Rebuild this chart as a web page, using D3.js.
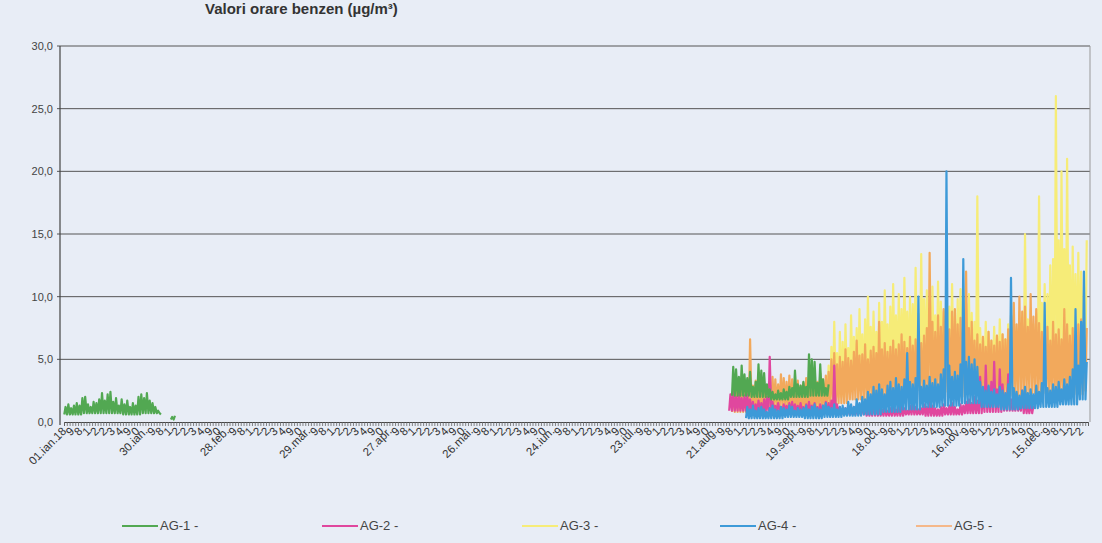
<!DOCTYPE html>
<html><head><meta charset="utf-8">
<script src="https://cdn.jsdelivr.net/npm/d3@7"></script>
<style>
html,body{margin:0;padding:0;background:#e8edf6;}
svg{display:block;font-family:"Liberation Sans",Arial,sans-serif;}
</style></head><body>
<svg id="c" width="1102" height="543"></svg>
<script>
// ---------- DATA ----------
const chartTitle = "Valori orare benzen (µg/m³)";
const seriesNames = ["AG-1 -", "AG-2 -", "AG-3 -", "AG-4 -", "AG-5 -"];
const yTicks = [0, 5, 10, 15, 20, 25, 30];
const yTickLabels = ["0,0", "5,0", "10,0", "15,0", "20,0", "25,0", "30,0"];
const dateLabelDays = [0, 29, 58, 87, 116, 145, 174, 203, 232, 261, 290, 319, 348];
const dateLabels = ["01.ian.18", "30.ian.", "28.feb.", "29.mar.", "27.apr.", "26.mai.", "24.iun.",
                    "23.iul.", "21.aug.", "19.sept.", "18.oct.", "16.nov.", "15.dec."];
const hourLabels = ["9", "8", "1", "2", "2", "3", "4", "9", "0"];

// daily maxima (hi) and weekly baseline minima (lo), by day of year
const ag1JanStart = 0;
const ag1JanHi = [1.2,1.4,1.1,1.3, 1.5,1.3,1.9,2.0,1.4, 1.2,1.6,1.5,1.8, 2.3,1.7,2.2,2.4,
  1.6,1.9,1.3,1.8, 1.4,1.7,1.2,1.5, 1.3,2.0,2.2,1.9,2.3, 1.7,1.5,1.2,0.9,0.6, null,null,null, 0.4,0.5];
const ag1JanLo = [0.6,0.7,0.7,0.6,0.7,0.2];

const ag1AugStart = 238;
const ag1AugHi = [4.4,4.2,3.6,4.5, 3.8,3.5,4.0,2.8, 3.2,4.6,4.1,3.9, 3.0,2.6,2.4,2.2,
  2.5,2.3,2.6,2.4, 2.8,2.7,4.1,3.0, 2.9,3.2,2.8,5.4, 5.0,4.8,3.1,4.6, 3.4,2.7,3.0];
const ag1AugLo = [2.1,2.0,1.8,2.0,2.1];

const ag2Start = 237;
const ag2Hi = [2.2,2.4,2.0,2.3,1.9,2.1,2.2,1.8, 1.6,1.4,1.7,1.5,1.8,2.0, 5.2,
  1.6,1.3,1.5,1.2,1.4,1.3,1.5,1.6,1.4, 1.3,1.5,1.2,1.4,1.6,1.3,1.5,1.2,1.4,1.3,1.6,1.5,1.7, 4.5,
  1.4,1.2,1.0,1.1,1.3,0.9,1.2,1.0,1.4,1.3,1.1,1.0,1.2,1.5,1.3,1.1,
  1.0,1.2,0.9,1.1,1.3,1.0,1.4,1.2,1.1,0.9,1.3,1.5,1.2,1.0,1.1,1.4,1.2,1.6,1.3,1.1,
  1.0,1.2,1.4,1.1,1.3,1.5,1.2,1.0,1.4,1.3,1.6,1.8,1.5,2.0,1.7,
  3.6,2.4,4.5,2.8,3.2,4.8,2.6,4.2,3.0,2.2,3.8, 1.8,1.5,2.2,1.6,2.5,1.9,1.4,1.7,1.3];
const ag2Lo = [0.9,0.8,0.9,0.8,0.7,0.6,0.6,0.5,0.5,0.6,0.5,0.6,0.7,0.8,0.9,0.7];

const ag3Start = 272;
const ag3Hi = [4.5,6.0,8.0,5.5,7.2,6.4,7.8,5.9,8.5,6.8,7.5,9.0,
  7.0,8.2,10.0,7.6,8.8,7.2,9.5,8.0,10.5,7.8,9.2,11.0,
  8.5,10.2,9.0,11.5,8.8,10.0,9.4,12.3,8.6,13.4,9.8,10.5,
  9.0,10.8,8.5,11.2,9.6,8.8,10.4,9.2,11.0,8.4,9.8,10.6,8.9,9.5,10.2,8.7,
  8.0, 18.0,
  7.5,6.8,8.0,7.2,6.5,7.6,6.9,8.2,7.0,6.6,7.8,
  7.4,8.5,7.0,8.8,7.6,15.0,8.2,9.0,7.8,8.6, 18.0,
  9.5,11.0,10.2,12.5,
  13.0,26.0,14.5,20.0,13.8,21.0,12.5,14.0,11.8,13.5,12.0,10.5,14.5];
const ag3Lo = [2.0,3.0,3.5,3.8,4.0,4.2,4.0,3.8,3.5,3.6,3.8,4.0,4.5,5.0];

const ag4Start = 243;
const ag4Hi = [1.2,1.0,1.3,0.9,1.1,1.2,1.0,0.8,1.1,1.3,1.0,0.9,1.2,1.1,1.0,1.3,1.2,0.9,1.1,1.0,
  1.1,1.3,1.0,1.2,1.4,1.1,1.0,1.3,1.5,1.2,1.1,1.4,1.0,1.2,1.3,1.1,1.6,1.4,1.2,1.8,1.5,
  2.0,1.8,2.4,2.2,2.8,2.5,3.0,2.6,2.2,2.9,3.2,2.7,3.5,3.0,2.8,3.4,5.5,
  3.2,3.0,3.5,10.0,2.8,3.3,2.9,3.6,3.1,3.4,
  3.0,3.8,4.2,20.0,4.5,3.6,4.0,3.7,4.6,13.0,
  4.8,5.2,4.6,5.0,4.4,3.2,2.8,2.5,2.9,2.4,
  2.6,2.2,2.8,2.5,2.3,3.0,11.5,2.7,2.4,2.1,
  2.5,2.8,2.3,2.6,2.2,2.9,2.4,3.1,9.5,2.7,
  2.5,3.0,2.8,3.2,2.6,3.4,3.0,3.6,4.2,9.0,4.5,8.0,12.0,4.8];
const ag4Lo = [0.3,0.3,0.4,0.3,0.4,0.5,0.6,0.8,1.0,1.2,1.3,1.5,1.2,1.0,1.1,1.2,1.4,1.8];

const ag5Start = 238;
const ag5Hi = [2.8,3.2,3.0,2.6,3.4,3.0, 6.6, 2.9,3.3,2.7,3.1,2.5,2.8,
  3.2,3.6,3.4,3.0,3.8,3.5,3.2,3.7,3.4,3.0,3.3,2.9,
  3.1,3.5,3.3,2.8,3.6,3.2,3.9,3.4,3.7,4.0,
  5.0,5.5,4.6,5.2,4.8,5.8,5.1,4.9,5.6,6.5,5.3,
  5.4,6.2,5.0,5.7,6.0,5.5,8.0,5.8,6.3,5.6,
  6.0,6.5,5.8,6.2,7.0,6.4,5.9,6.8,6.1,6.6,7.2,6.3,6.9,7.5,
  13.5,
  8.0,7.2,8.5,7.6,9.0,8.2,7.4,8.8,9.0,7.8,8.3,8.6,12.0,7.5,8.0,
  6.5,7.0,6.2,6.8,6.0,7.2,6.5,6.1,6.9,6.4,7.0,6.6,7.4,
  8.5,9.5,7.8,10.0,8.8,9.2,7.6,10.2,8.4,9.0,7.9,
  7.2,6.8,7.6,6.5,8.0,7.0,7.4,6.6,9.0,7.8,6.9,7.5,6.4,7.8,8.2,6.8,7.5];
const ag5Lo = [0.8,1.0,1.2,1.0,1.1,1.5,1.8,2.0,2.2,2.5,2.4,2.0,2.2,2.0,2.1,2.3,2.4,2.2,2.5];

// ---------- STYLE ----------
const colors = {ag1:"#52a852", ag2:"#e0479e", ag3:"#f6ec78", ag4:"#3d9ad8", ag5:"#f2a95c"};
const legendColors = ["#52a852", "#e0479e", "#f6ec78", "#3d9ad8", "#f5b88a"];

// ---------- CHART ----------
const svg = d3.select("#c");
const x = d3.scaleLinear().domain([0, 365]).range([64, 1088]);
const y = d3.scaleLinear().domain([0, 30]).range([422, 46]);

svg.append("text").attr("x", 205).attr("y", 14)
  .attr("font-size", 15).attr("font-weight", "bold").attr("fill", "#333")
  .text(chartTitle);

// gridlines
svg.append("g").selectAll("line").data(yTicks.filter(d => d > 0)).join("line")
  .attr("x1", 57).attr("x2", 1090)
  .attr("y1", d => y(d)).attr("y2", d => y(d))
  .attr("stroke", "#555").attr("stroke-width", 1);
svg.append("line").attr("x1", 1090).attr("x2", 1090).attr("y1", y(30)).attr("y2", y(0))
  .attr("stroke", "#999").attr("stroke-width", 1);

// y tick labels
svg.append("g").selectAll("text").data(yTicks).join("text")
  .attr("x", 53).attr("y", d => y(d) + 4).attr("text-anchor", "end")
  .attr("font-size", 11).attr("fill", "#444")
  .text((d, i) => yTickLabels[i]);

// series
function buildPoints(start, hi, lo) {
  const pts = [];
  hi.forEach((h, i) => {
    if (h == null) { pts.push(null); return; }
    const l = lo[Math.floor(i / 7)];
    pts.push({t: start + i + 0.1, v: l});
    pts.push({t: start + i + 0.55, v: h});
  });
  return pts;
}
const line = d3.line().defined(d => d != null).x(d => x(d.t)).y(d => y(d.v));
const layers = [
  {pts: buildPoints(ag3Start, ag3Hi, ag3Lo), c: colors.ag3},
  {pts: buildPoints(ag5Start, ag5Hi, ag5Lo), c: colors.ag5},
  {pts: buildPoints(ag2Start, ag2Hi, ag2Lo), c: colors.ag2},
  {pts: buildPoints(ag4Start, ag4Hi, ag4Lo), c: colors.ag4},
  {pts: buildPoints(ag1AugStart, ag1AugHi, ag1AugLo), c: colors.ag1},
  {pts: buildPoints(ag1JanStart, ag1JanHi, ag1JanLo), c: colors.ag1}
];
svg.append("g").selectAll("path").data(layers).join("path")
  .attr("d", d => line(d.pts)).attr("fill", "none")
  .attr("stroke", d => d.c).attr("stroke-width", 2.2).attr("stroke-linejoin", "round");

// y axis line
svg.append("line").attr("x1", 60).attr("x2", 60).attr("y1", y(30)).attr("y2", y(0) + 3)
  .attr("stroke", "#444").attr("stroke-width", 1.2);

// x axis
const xAxis = svg.append("g").attr("transform", `translate(0,${y(0)})`)
  .call(d3.axisBottom(x).tickValues(d3.range(0, 366, 1)).tickSize(4).tickFormat(""));
xAxis.select(".domain").attr("stroke", "#444");
xAxis.selectAll(".tick line").attr("stroke", "#666").attr("stroke-width", 0.8);

// x labels (dates)
const labG = svg.append("g").attr("font-size", 11.5).attr("fill", "#333");
labG.selectAll("text.d").data(dateLabelDays).join("text").attr("class", "d")
  .attr("text-anchor", "end")
  .attr("transform", d => `translate(${x(d) + 3},${y(0) + 10}) rotate(-45)`)
  .text((d, i) => dateLabels[i]);
// hour labels between dates
const hourPos = [];
dateLabelDays.forEach(d0 => {
  hourLabels.forEach((h, k) => {
    const t = d0 + 2.9 * (k + 1);
    if (t < 365) hourPos.push({t, h});
  });
});
labG.selectAll("text.h").data(hourPos).join("text").attr("class", "h")
  .attr("text-anchor", "end")
  .attr("transform", d => `translate(${x(d.t) + 3},${y(0) + 10}) rotate(-45)`)
  .text(d => d.h);

// legend
const legendX = [122, 322, 522, 720, 916];
const lg = svg.append("g").selectAll("g").data(seriesNames).join("g")
  .attr("transform", (d, i) => `translate(${legendX[i]},526)`);
lg.append("line").attr("x1", 0).attr("x2", 36).attr("y1", 0).attr("y2", 0)
  .attr("stroke", (d, i) => legendColors[i]).attr("stroke-width", 2);
lg.append("text").attr("x", 38).attr("y", 4).attr("font-size", 13).attr("fill", "#444")
  .text(d => d);
</script>
</body></html>
